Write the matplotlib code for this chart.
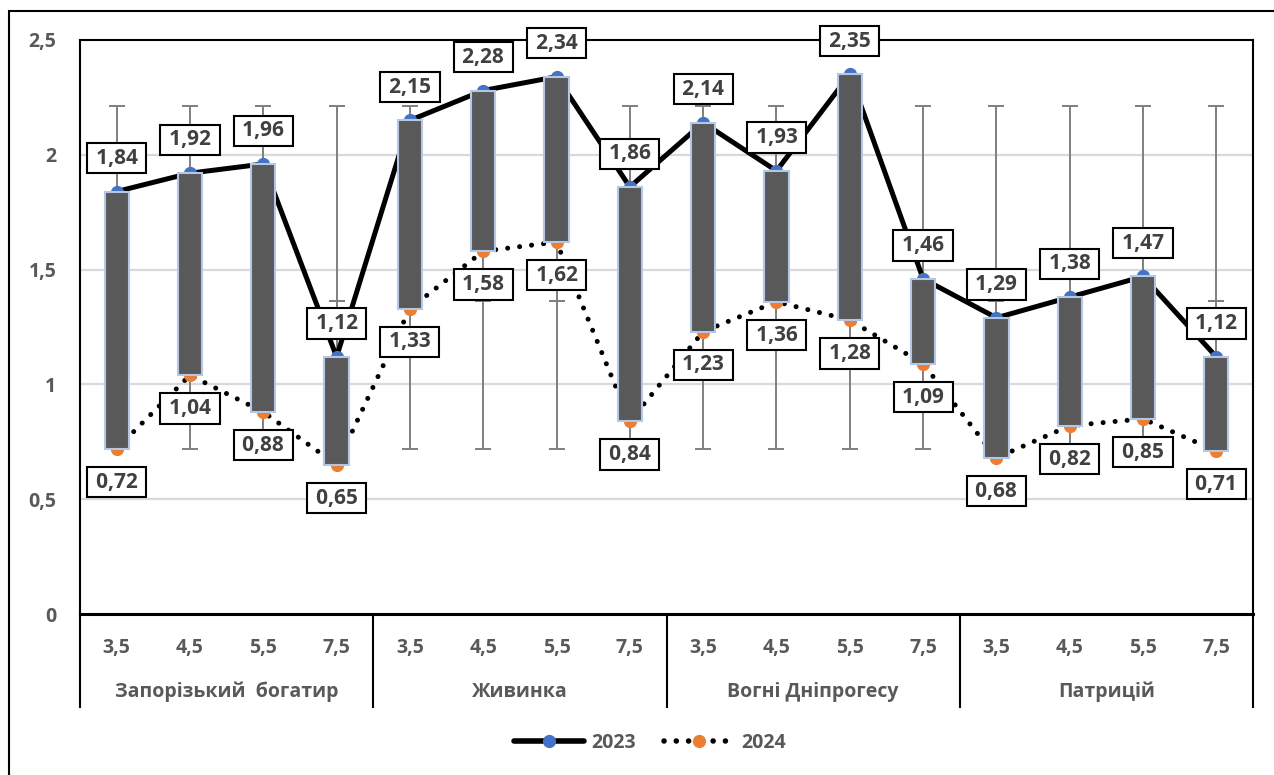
import numpy as np
import matplotlib
matplotlib.use("Agg")
import matplotlib.pyplot as plt
import matplotlib.transforms as mtransforms
from matplotlib.patches import Rectangle
from matplotlib.lines import Line2D

# ---- data -------------------------------------------------------------
varieties = ["Запорізький  богатир", "Живинка", "Вогні Дніпрогесу", "Патрицій"]
doses = ["3,5", "4,5", "5,5", "7,5"]
y2023 = [1.84, 1.92, 1.96, 1.12,
         2.15, 2.28, 2.34, 1.86,
         2.14, 1.93, 2.35, 1.46,
         1.29, 1.38, 1.47, 1.12]
y2024 = [0.72, 1.04, 0.88, 0.65,
         1.33, 1.58, 1.62, 0.84,
         1.23, 1.36, 1.28, 1.09,
         0.68, 0.82, 0.85, 0.71]
series_names = ["2023", "2024"]
y_ticks = [0, 0.5, 1, 1.5, 2, 2.5]

# ---- style ------------------------------------------------------------
FONT = ["Open Sans", "DejaVu Sans"]
plt.rcParams["font.family"] = FONT
plt.rcParams["font.weight"] = "bold"
TICK_COLOR = "#595959"
LABEL_COLOR = "#404040"
BLUE = "#4472C4"
ORANGE = "#ED7D31"
DOTS = (0, (0.01, 2.4))
THIN = "\u2009"


def fmt(v):
    return THIN + f"{v:.2f}".replace(".", ",") + THIN


def tick_fmt(v):
    return f"{v:g}".replace(".", ",")


W, H = 1274, 775
fig = plt.figure(figsize=(W / 100, H / 100), dpi=100)
ax = fig.add_axes([80 / W, 161 / H, 1173 / W, 574 / H])

a23 = np.array(y2023)
a24 = np.array(y2024)
x = np.arange(len(a23))

ax.set_xlim(-0.5, len(x) - 0.5)
ax.set_ylim(0, 2.5)

# gridlines
for v in y_ticks[1:-1]:
    ax.axhline(v, color="#D9D9D9", lw=1.6, zorder=0)

# standard-deviation error bars (centred on each series mean)
for vals in (a23, a24):
    m = vals.mean()
    s = vals.std(ddof=1)
    ax.errorbar(x, np.full(len(x), m), yerr=s, fmt="none", ecolor="#7F7F7F",
                elinewidth=1.4, capsize=5.5, capthick=1.4, zorder=1)

# 2023: solid line, 2024: dotted line
ax.plot(x, a23, color="black", lw=3.6, solid_joinstyle="round",
        solid_capstyle="round", zorder=2)
ax.plot(x, a24, color="black", lw=3.6, linestyle=DOTS,
        dash_capstyle="round", zorder=2)

ax.plot(x, a23, "o", color=BLUE, ms=8.5, mec=BLUE, zorder=3)
ax.plot(x, a24, "o", color=ORANGE, ms=8.5, mec=ORANGE, zorder=3)

# down bars between the two years
ax.bar(x, a23 - a24, bottom=a24, width=0.33, color="#595959",
       edgecolor="#B4C7E7", linewidth=1.5, zorder=4)

# value labels
box = dict(boxstyle="square,pad=0.22", fc="white", ec="black", lw=1.5)
lab_kw = dict(textcoords="offset points", ha="center", va="center",
              fontsize=15, fontweight="bold", color=LABEL_COLOR, bbox=box,
              zorder=6, annotation_clip=False)
for xi, v in zip(x, a23):
    ax.annotate(fmt(v), (xi, v), xytext=(0, 24), **lab_kw)
for xi, v in zip(x, a24):
    ax.annotate(fmt(v), (xi, v), xytext=(0, -24), **lab_kw)

# axes frame
for side in ("left", "right", "top"):
    ax.spines[side].set_color("black")
    ax.spines[side].set_linewidth(1.5)
ax.spines["bottom"].set_color("black")
ax.spines["bottom"].set_linewidth(2.2)

ax.set_yticks(y_ticks)
ax.set_yticklabels([tick_fmt(v) for v in y_ticks])
ax.tick_params(axis="y", length=0, pad=17, labelsize=14, labelcolor=TICK_COLOR)
ax.set_xticks(x)
ax.set_xticklabels(doses * len(varieties))
ax.tick_params(axis="x", length=0, pad=17.5, labelsize=14, labelcolor=TICK_COLOR)
for lab in ax.get_xticklabels() + ax.get_yticklabels():
    lab.set_fontweight("bold")

# group labels and dividers under the axis
trans = mtransforms.blended_transform_factory(ax.transData, ax.transAxes)
axis_px = 574
for g, name in enumerate(varieties):
    ax.text(g * 4 + 1.5, -(692 - 614) / axis_px, name, transform=trans,
            ha="center", va="center", fontsize=14, fontweight="bold",
            color=TICK_COLOR)
for xb in np.arange(-0.5, len(x), 4):
    ax.plot([xb, xb], [0, -(707 - 614) / axis_px], transform=trans,
            color="black", lw=1.5, clip_on=False, zorder=5)

# legend
handles = [
    Line2D([], [], color="black", lw=4, marker="o", ms=8.5,
           mfc=BLUE, mec=BLUE, solid_capstyle="round"),
    Line2D([], [], color="black", lw=4, linestyle=(0, (0.01, 2.2)),
           dash_capstyle="round", marker="o", ms=8.5, mfc=ORANGE, mec=ORANGE),
]
leg = fig.legend(handles, series_names, loc="center", ncol=2,
                 bbox_to_anchor=(650 / W, 1 - 743 / H), frameon=False,
                 handlelength=3.6, handletextpad=0.4, columnspacing=1.4,
                 prop=dict(family=FONT, weight="bold", size=14))
for t in leg.get_texts():
    t.set_color(TICK_COLOR)

# outer chart border
fig.add_artist(Rectangle((9 / W, -0.01), (W + 10) / W, 1 - 11 / H + 0.01,
                         transform=fig.transFigure, fill=False,
                         ec="black", lw=1.5))

fig.savefig("out.png", dpi=100, facecolor="white")
